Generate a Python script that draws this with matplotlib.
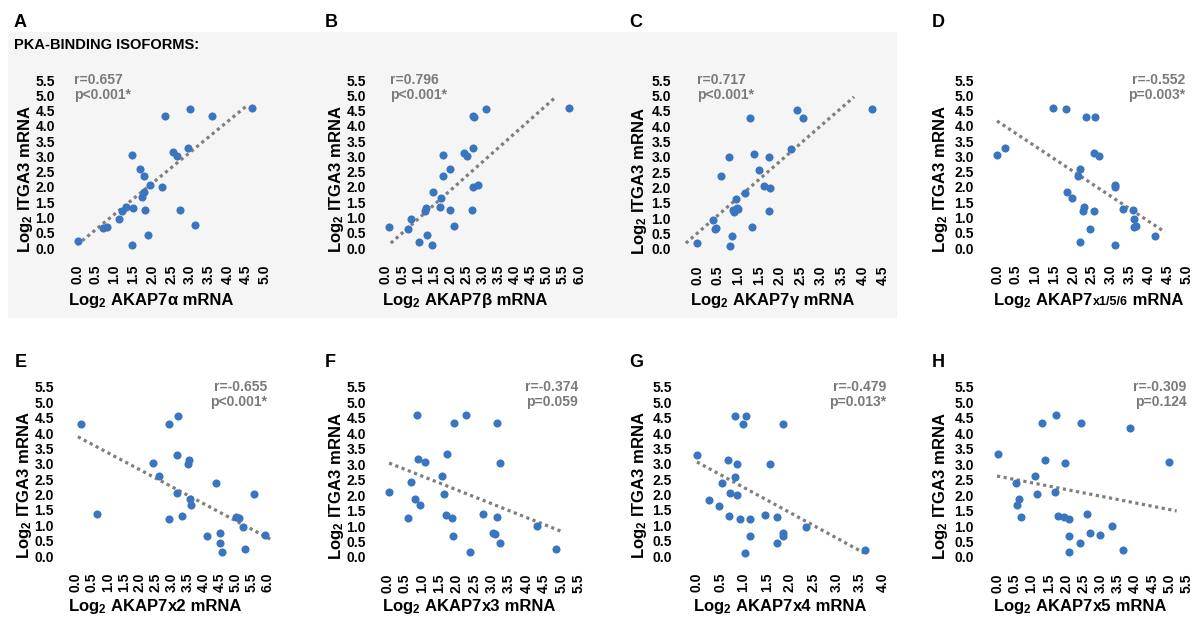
import matplotlib
matplotlib.use("Agg")
import matplotlib.pyplot as plt
from matplotlib.patches import Rectangle
import numpy as np

plt.rcParams["font.family"] = "Liberation Sans"
plt.rcParams["font.weight"] = "bold"
plt.rcParams["mathtext.fontset"] = "custom"
plt.rcParams["mathtext.rm"] = "Liberation Sans:bold"
plt.rcParams["mathtext.bf"] = "Liberation Sans:bold"
plt.rcParams["mathtext.it"] = "Liberation Sans:bold:italic"

# ---- data (Log2 mRNA) ----
alpha_x = [0.02, 0.68, 0.81, 1.11, 1.19, 1.29, 1.49, 1.46, 1.46, 1.68, 1.79, 1.77, 1.72,
           1.82, 1.89, 1.95, 2.27, 2.35, 2.54, 2.67, 2.73, 2.96, 3.01, 3.15, 3.58, 4.66]
alpha_y = [0.22, 0.65, 0.68, 0.96, 1.20, 1.35, 1.30, 3.03, 0.11, 2.58, 2.37, 1.83, 1.66,
           1.26, 0.41, 2.05, 2.00, 4.31, 3.13, 3.02, 1.23, 3.29, 4.55, 0.74, 4.31, 4.59]

beta_x = [0.08, 0.69, 0.79, 1.04, 1.20, 1.23, 1.28, 1.43, 1.45, 1.68, 1.72, 1.78, 1.77,
          1.99, 2.00, 2.10, 2.43, 2.53, 2.72, 2.74, 2.71, 2.69, 2.87, 2.68, 3.10, 5.69]
beta_y = [0.68, 0.63, 0.95, 0.20, 1.22, 1.31, 0.41, 0.10, 1.82, 1.34, 1.63, 3.03, 2.36,
          2.57, 1.26, 0.72, 3.10, 3.02, 4.31, 4.30, 3.29, 2.00, 2.05, 1.23, 4.55, 4.59]

gamma_x = [0.01, 0.39, 0.43, 0.47, 0.58, 0.78, 0.84, 0.80, 0.87, 0.90, 0.95, 0.96, 0.99,
           1.15, 1.29, 1.33, 1.38, 1.50, 1.63, 1.73, 1.77, 1.74, 2.28, 2.41, 2.57, 4.23]
gamma_y = [0.19, 0.95, 0.65, 0.67, 2.36, 3.01, 0.41, 0.11, 1.26, 1.19, 1.62, 1.32, 1.29,
           1.82, 4.27, 0.73, 3.10, 2.56, 2.05, 3.00, 1.99, 1.23, 3.27, 4.53, 4.27, 4.57]

x156_x = [0.00, 0.22, 1.48, 1.82, 1.85, 1.98, 2.12, 2.18, 2.18, 2.25, 2.29, 2.35, 2.44,
          2.54, 2.55, 2.58, 2.69, 3.10, 3.10, 3.11, 3.32, 3.57, 3.60, 3.61, 3.66, 4.16]
x156_y = [3.03, 3.29, 4.58, 4.55, 1.82, 1.63, 2.36, 2.57, 0.20, 1.20, 1.35, 4.30, 0.63,
          1.22, 3.12, 4.30, 3.01, 2.06, 1.99, 0.10, 1.29, 1.26, 0.94, 0.68, 0.73, 0.40]

x2_x = [0.17, 0.67, 2.41, 2.60, 2.91, 3.21, 3.17, 3.18, 2.92, 3.33, 3.53, 3.56, 3.59,
        3.60, 4.12, 4.39, 4.53, 4.52, 4.58, 5.03, 5.11, 5.24, 5.31, 5.58, 5.94]
x2_y = [4.30, 1.36, 3.03, 2.59, 4.30, 4.56, 3.30, 2.06, 1.21, 1.31, 3.01, 3.11, 1.85,
        1.65, 0.65, 2.38, 0.75, 0.42, 0.12, 1.26, 1.23, 0.96, 0.23, 2.01, 0.68]

x3_x = [0.06, 0.61, 0.68, 0.79, 0.85, 0.89, 0.95, 1.10, 1.58, 1.63, 1.68, 1.73, 1.87,
        1.88, 1.92, 2.26, 2.38, 2.74, 3.04, 3.10, 3.14, 3.16, 3.24, 3.25, 4.30, 4.85]
x3_y = [2.10, 1.27, 2.42, 1.87, 4.58, 3.16, 1.68, 3.06, 2.61, 2.05, 1.35, 3.32, 1.25,
        0.69, 4.34, 4.61, 0.16, 1.40, 0.79, 0.73, 1.31, 4.33, 0.46, 3.05, 0.99, 0.27]

x4_x = [-0.01, 0.26, 0.47, 0.54, 0.66, 0.68, 0.72, 0.81, 0.82, 0.86, 0.87, 0.92, 0.98,
        1.03, 1.05, 1.13, 1.15, 1.47, 1.56, 1.71, 1.71, 1.86, 1.86, 1.86, 2.34, 3.61]
x4_y = [3.28, 1.82, 1.63, 2.36, 3.11, 1.29, 2.05, 2.56, 4.55, 2.00, 3.01, 1.22, 4.29,
        0.11, 4.57, 1.20, 0.64, 1.35, 3.01, 1.26, 0.41, 4.29, 0.74, 0.66, 0.94, 0.21]

x5_x = [0.02, 0.56, 0.59, 0.65, 0.70, 1.10, 1.15, 1.29, 1.40, 1.67, 1.72, 1.76, 1.95,
        1.97, 2.07, 2.08, 2.08, 2.39, 2.43, 2.60, 2.69, 2.98, 3.34, 3.64, 3.85, 4.98]
x5_y = [3.32, 2.40, 1.68, 1.87, 1.28, 2.62, 2.05, 4.33, 3.14, 2.09, 4.61, 1.33, 1.30,
        3.04, 1.23, 0.68, 0.15, 0.45, 4.33, 1.40, 0.77, 0.71, 1.00, 0.24, 4.17, 3.06]

# regression line end points
fit_x = [[0.0, 4.52], [0.15, 5.22], [-0.27, 3.80], [0.0, 4.42],
         [0.06, 6.10], [0.06, 5.04], [0.0, 3.59], [0.0, 5.20]]
fit_y = [[0.10, 4.66], [0.16, 4.89], [0.19, 4.95], [4.16, 0.52],
         [3.88, 0.55], [3.04, 0.81], [3.06, 0.10], [2.62, 1.49]]

r_text = ["r=0.657", "r=0.796", "r=0.717", "r=-0.552", "r=-0.655", "r=-0.374", "r=-0.479", "r=-0.309"]
p_text = ["p<0.001*", "p<0.001*", "p<0.001*", "p=0.003*", "p<0.001*", "p=0.059", "p=0.013*", "p=0.124"]
letters = ["A", "B", "C", "D", "E", "F", "G", "H"]
x_suffix = ["α", "β", "γ", "x1/5/6", "x2", "x3", "x4", "x5"]
x_max = [5.0, 6.0, 4.5, 5.0, 6.0, 5.5, 4.0, 5.5]

xs = [alpha_x, beta_x, gamma_x, x156_x, x2_x, x3_x, x4_x, x5_x]
ys = [alpha_y, beta_y, gamma_y, x156_y, x2_y, x3_y, x4_y, x5_y]

# ---- layout (pixels in a 1200x617 canvas) ----
W, H = 1200, 617
x0px = [77, 386, 697, 997, 76, 387, 697, 997]
xkpx = [265, 579, 883, 1187, 267, 579, 883, 1187]
y0py = [248, 248, 249, 248, 556, 557, 556, 557]
y55py = [80, 80, 80, 80, 387, 387, 387, 387]
ytick_gap = [22, 20, 26, 23, 22, 21, 25, 23]   # from x=0 to right edge of y tick labels
ylab_x = [30, 341, 644, 945, 29, 341, 644, 945]
ylab_y = [253, 253, 255, 253, 559, 560, 559, 560]
xlab_x = [68, 382, 690, 993, 68, 382, 693, 993]
xlab_y = [305] * 4 + [611] * 4
let_x = [14, 325, 629, 932, 15, 325, 629, 932]
let_y = [27] * 4 + [367] * 4
stat_x = [-0.08, 0.12, 0.0, 4.95, 6.0, 5.47, 4.06, 5.48]
stat_ha = ["left"] * 3 + ["right"] * 5

DOT = "#3a76bf"
FIT = "#7f7f7f"
STAT = "#7a7a7a"

fig = plt.figure(figsize=(12, 6.17), dpi=100)

def fx(px):
    return px / W

def fy(py):
    return 1 - py / H

# grey box behind the PKA-binding isoforms
fig.add_artist(Rectangle((fx(8), fy(318)), (897 - 8) / W, (318 - 32) / H,
                         transform=fig.transFigure, facecolor="#f5f5f5",
                         edgecolor="none", zorder=-5))
fig.text(fx(14), fy(49), "PKA-BINDING ISOFORMS:", fontsize=10.5, ha="left", va="baseline")

for i in range(8):
    ppu_x = (xkpx[i] - x0px[i]) / x_max[i]
    ppu_y = (y0py[i] - y55py[i]) / 5.5
    lm = ytick_gap[i] - 6
    left, right = x0px[i] - lm, xkpx[i] + 10
    bottom, top = y0py[i] + 11, y55py[i] - 10
    ax = fig.add_axes([fx(left), fy(bottom), (right - left) / W, (bottom - top) / H])
    ax.set_xlim(-lm / ppu_x, x_max[i] + 10 / ppu_x)
    ax.set_ylim(-11 / ppu_y, 5.5 + 10 / ppu_y)
    ax.set_facecolor("none")
    for s in ax.spines.values():
        s.set_visible(False)

    ax.plot(fit_x[i], fit_y[i], color=FIT, lw=2.3, ls=(0, (1, 1.1)),
            zorder=2, clip_on=False)
    ax.scatter(xs[i], ys[i], s=34, color=DOT, linewidths=0, zorder=3, clip_on=False)

    xt = np.arange(0, x_max[i] + 0.01, 0.5)
    yt = np.arange(0, 5.51, 0.5)
    ax.set_xticks(xt)
    ax.set_xticklabels(["%.1f" % v for v in xt], rotation=90)
    ax.set_yticks(yt)
    ax.set_yticklabels(["%.1f" % v for v in yt])
    ax.tick_params(length=0, pad=4.3, labelsize=10)

    ax.text(stat_x[i], 5.5, r_text[i], color=STAT, fontsize=10, ha=stat_ha[i], va="center")
    ax.text(stat_x[i], 5.0, p_text[i], color=STAT, fontsize=10, ha=stat_ha[i], va="center")

    fig.text(fx(ylab_x[i]), fy(ylab_y[i]), "Log$_2$ ITGA3 mRNA", fontsize=12,
             rotation=90, rotation_mode="anchor", ha="left", va="baseline")
    fig.text(fx(let_x[i]), fy(let_y[i]), letters[i], fontsize=13, ha="left", va="baseline")

# x labels built from pieces so the isoform suffix can have its own size
renderer = fig.canvas.get_renderer()
for i in range(8):
    small = 9 if i == 3 else 12
    pieces = [("Log$_2$ AKAP7", 12), (x_suffix[i], small), (" mRNA", 12)]
    x = fx(xlab_x[i])
    for txt, size in pieces:
        t = fig.text(x, fy(xlab_y[i]), txt, fontsize=size, ha="left", va="baseline")
        bb = t.get_window_extent(renderer)
        x = bb.x1 / fig.bbox.width

fig.savefig("out.png", dpi=100)
